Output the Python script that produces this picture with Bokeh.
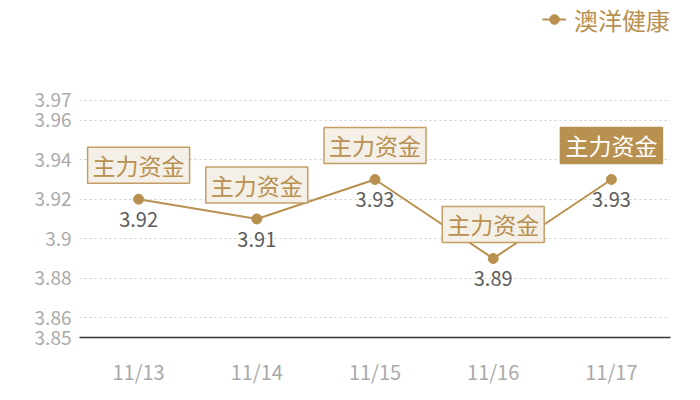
from bokeh.plotting import figure
from bokeh.models import ColumnDataSource, Range1d, FixedTicker, NumeralTickFormatter, Legend, LegendItem, FactorRange
from bokeh.core.properties import value
from bokeh.embed import file_html
from bokeh.resources import INLINE

dates = ["11/13", "11/14", "11/15", "11/16", "11/17"]
prices = [3.92, 3.91, 3.93, 3.89, 3.93]
price_labels = ["3.92", "3.91", "3.93", "3.89", "3.93"]
flow_labels = ["主力资金", "主力资金", "主力资金", "主力资金", "主力资金"]
highlight = [False, False, False, False, True]
y_ticks = [3.85, 3.86, 3.88, 3.9, 3.92, 3.94, 3.96, 3.97]
series_name = "澳洋健康"

GOLD = "#b8904f"
BOX_FILL = "#f4efe7"
BOX_LINE = "#c49e66"
FONT = "Noto Sans CJK SC"

src = ColumnDataSource(dict(
    date=dates,
    price=prices,
    plabel=price_labels,
    flow=flow_labels,
    tcolor=["white" if h else GOLD for h in highlight],
    bg=[GOLD if h else BOX_FILL for h in highlight],
    bd=[GOLD if h else BOX_LINE for h in highlight],
))

# frame spans to the top of the canvas; 3.97 sits 100px below it (legend lives in that headroom)
p = figure(width=700, height=400, x_range=FactorRange(*dates), y_range=Range1d(3.85, 4.0206),
           output_backend="svg", toolbar_location=None,
           min_border_left=79, min_border_right=30, min_border_top=0, min_border_bottom=63)
p.outline_line_color = None
p.background_fill_color = "white"
p.border_fill_color = "white"

p.xgrid.visible = False
p.ygrid.ticker = FixedTicker(ticks=y_ticks)
p.ygrid.grid_line_color = "#cccccc"
p.ygrid.grid_line_dash = "2 3"
p.ygrid.grid_line_width = 1

p.yaxis.ticker = FixedTicker(ticks=y_ticks)
p.yaxis.formatter = NumeralTickFormatter(format="0.[00]")
p.yaxis.axis_line_color = None
p.yaxis.major_tick_line_color = None
p.yaxis.major_tick_out = 0
p.yaxis.major_tick_in = 0
p.yaxis.minor_tick_line_color = None
p.yaxis.major_label_text_color = "#aaaaaa"
p.yaxis.major_label_text_font = FONT
p.yaxis.major_label_text_font_size = "19px"
p.yaxis.major_label_standoff = 8

p.xaxis.axis_line_color = "#333333"
p.xaxis.axis_line_width = 1.3
p.xaxis.major_tick_line_color = None
p.xaxis.major_tick_out = 0
p.xaxis.major_tick_in = 0
p.xaxis.minor_tick_line_color = None
p.xaxis.major_label_text_color = "#aaaaaa"
p.xaxis.major_label_text_font = FONT
p.xaxis.major_label_text_font_size = "20px"
p.xaxis.major_label_standoff = 19

line_r = p.line(x="date", y="price", source=src, line_color=GOLD, line_width=2)
pt_r = p.scatter(x="date", y="price", source=src, size=10, fill_color=GOLD, line_color=GOLD)

p.text(x="date", y="price", text="plabel", source=src, text_align="center", text_baseline="top",
       y_offset=13, text_font=value(FONT), text_font_size="20px", text_color="#5c5c5c")

p.text(x="date", y="price", text="flow", source=src, text_align="center", text_baseline="bottom",
       y_offset=-16, text_font=value(FONT), text_font_size="23px", text_color="tcolor",
       background_fill_color="bg", border_line_color="bd", border_line_width=1.5, padding=(5, 1))

legend = Legend(items=[LegendItem(label=series_name, renderers=[line_r, pt_r])],
                location="top_right", orientation="horizontal",
                label_text_font=FONT, label_text_font_size="24px", label_text_color=GOLD,
                glyph_width=24, glyph_height=38, label_height=38, label_standoff=8,
                padding=0, margin=0, border_line_color=None, background_fill_alpha=0)
p.add_layout(legend)

open("out.html", "w").write(file_html(p, INLINE))
